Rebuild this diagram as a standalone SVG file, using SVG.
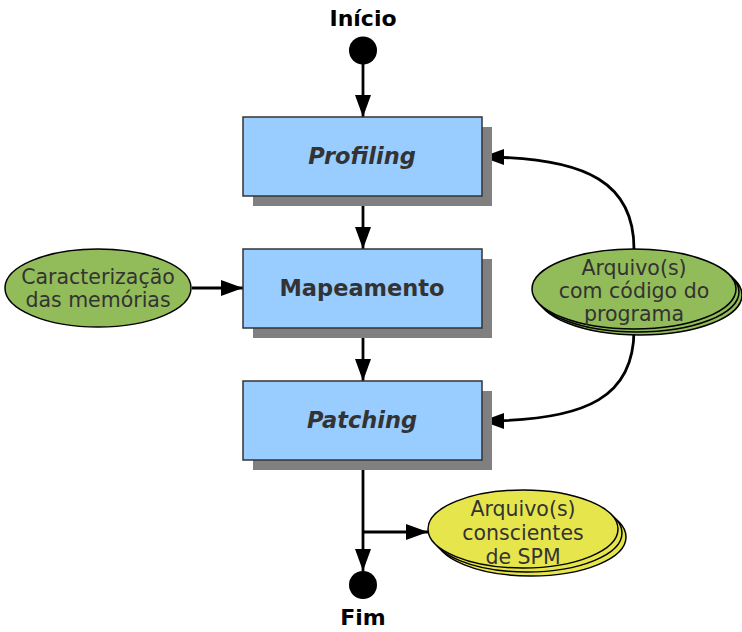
<svg xmlns="http://www.w3.org/2000/svg" width="742" height="632" viewBox="0 0 742 632">
  <style>
    .box { fill: #99ccff; stroke: #333333; stroke-width: 1.5; }
    .shadow { fill: #808080; }
    .boxlabel { font-family: "DejaVu Sans", sans-serif; font-size: 22.5px; font-weight: bold; fill: #333333; text-anchor: middle; }
    .it { font-style: italic; }
    .term { font-family: "DejaVu Sans", sans-serif; font-size: 22px; font-weight: bold; fill: #000000; text-anchor: middle; }
    .elabel { font-family: "DejaVu Sans", sans-serif; font-size: 20.5px; fill: #333333; text-anchor: middle; }
    .green { fill: #92bb5a; stroke: #000000; stroke-width: 1.5; }
    .yellow { fill: #e6e64c; stroke: #000000; stroke-width: 1.5; }
    .edge { fill: none; stroke: #000000; stroke-width: 2.8; }
  </style>
  <defs>
    <marker id="arrowL" viewBox="0 0 22 16" refX="22" refY="8" markerWidth="22" markerHeight="16" markerUnits="userSpaceOnUse" orient="auto">
      <path d="M0,0 L22,8 L0,16 Z" fill="#000000"/>
    </marker>
  </defs>

  <!-- connectors -->
  <g id="connectors">
    <path class="edge" d="M363,62 L363,117" marker-end="url(#arrowL)"/>
    <path class="edge" d="M363,196 L363,249" marker-end="url(#arrowL)"/>
    <path class="edge" d="M192,288 L243,288" marker-end="url(#arrowL)"/>
    <path class="edge" d="M363,328 L363,381" marker-end="url(#arrowL)"/>
    <path class="edge" d="M363,460 L363,571" marker-end="url(#arrowL)"/>
    <path class="edge" d="M363,532 L428,532" marker-end="url(#arrowL)"/>
    <path class="edge" d="M634,249 C634,185 590,157 482,157" marker-end="url(#arrowL)"/>
    <path class="edge" d="M634,330 C634,395 590,421 482,421" marker-end="url(#arrowL)"/>
  </g>

  <g id="inicio">
    <text class="term" x="363" y="26">Início</text>
    <circle cx="363" cy="50.5" r="14" fill="#000000"/>
  </g>

  <g id="profiling">
    <rect class="shadow" x="253" y="127" width="239" height="79"/>
    <rect class="box" x="243" y="117" width="239" height="79"/>
    <text class="boxlabel it" x="362" y="164">Profiling</text>
  </g>

  <g id="mapeamento">
    <rect class="shadow" x="253" y="259" width="239" height="79"/>
    <rect class="box" x="243" y="249" width="239" height="79"/>
    <text class="boxlabel" x="362" y="296">Mapeamento</text>
  </g>

  <g id="patching">
    <rect class="shadow" x="253" y="391" width="239" height="79"/>
    <rect class="box" x="243" y="381" width="239" height="79"/>
    <text class="boxlabel it" x="362" y="428">Patching</text>
  </g>

  <g id="caracterizacao">
    <ellipse class="green" cx="98" cy="288" rx="93" ry="39"/>
    <text class="elabel" x="98" y="284">Caracterização</text>
    <text class="elabel" x="98" y="307">das memórias</text>
  </g>

  <g id="arquivos-codigo">
    <ellipse class="green" cx="640" cy="295" rx="102" ry="40"/>
    <ellipse class="green" cx="637" cy="292" rx="102" ry="40"/>
    <ellipse class="green" cx="634" cy="289" rx="102" ry="40"/>
    <text class="elabel" x="634" y="275">Arquivo(s)</text>
    <text class="elabel" x="634" y="298">com código do</text>
    <text class="elabel" x="634" y="321">programa</text>
  </g>

  <g id="arquivos-spm">
    <ellipse class="yellow" cx="531" cy="537" rx="95" ry="39"/>
    <ellipse class="yellow" cx="527" cy="533" rx="95" ry="39"/>
    <ellipse class="yellow" cx="523" cy="529" rx="95" ry="39"/>
    <text class="elabel" x="523" y="516">Arquivo(s)</text>
    <text class="elabel" x="523" y="540">conscientes</text>
    <text class="elabel" x="523" y="564">de SPM</text>
  </g>

  <g id="fim">
    <circle cx="363" cy="585" r="14" fill="#000000"/>
    <text class="term" x="363" y="625">Fim</text>
  </g>
</svg>
